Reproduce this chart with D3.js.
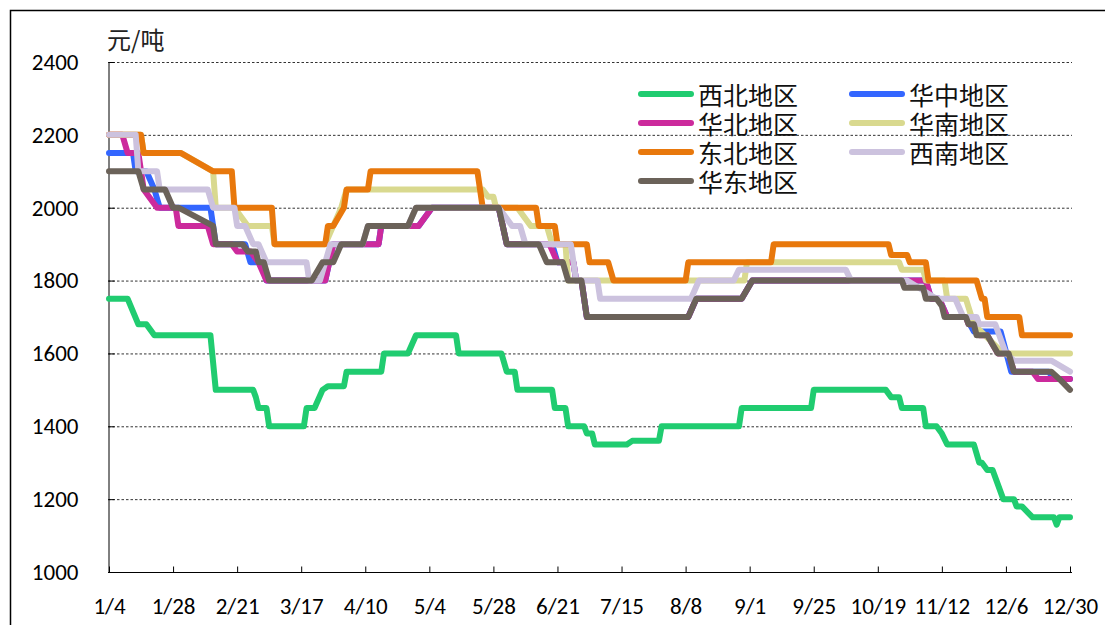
<!DOCTYPE html>
<html><head><meta charset="utf-8">
<script src="https://cdn.jsdelivr.net/npm/d3@7"></script>
<style>body{margin:0;background:#fff} svg{display:block}</style>
</head><body><svg id="c" width="1105" height="625"></svg>
<script>
const xTickLabels = ["1/4","1/28","2/21","3/17","4/10","5/4","5/28","6/21","7/15","8/8","9/1","9/25","10/19","11/12","12/6","12/30"];
const yTicks = [1000,1200,1400,1600,1800,2000,2200,2400];
const unitLabel = "元/吨";
const seriesNames = ["西北地区","华中地区","华北地区","华南地区","东北地区","西南地区","华东地区"];
const seriesColors = ["#20CC70","#3366FF","#CC2A9C","#D9D98F","#E8780C","#CCC2DE","#6B6259"];

const xibei = [["1/4",1750],["1/11",1750],["1/15",1680],["1/18",1680],["1/21",1650],["2/11",1650],["2/13",1500],["2/27",1500],["2/28",1480],["3/1",1450],["3/4",1450],["3/5",1400],["3/18",1400],["3/19",1450],["3/22",1450],["3/25",1500],["3/27",1510],["4/2",1510],["4/3",1550],["4/16",1550],["4/17",1600],["4/26",1600],["4/29",1650],["5/14",1650],["5/15",1600],["5/31",1600],["6/2",1550],["6/5",1550],["6/6",1500],["6/19",1500],["6/20",1450],["6/24",1450],["6/25",1400],["7/1",1400],["7/2",1380],["7/4",1380],["7/5",1350],["7/17",1350],["7/19",1360],["7/29",1360],["7/30",1400],["8/28",1400],["8/29",1450],["9/24",1450],["9/25",1500],["10/22",1500],["10/24",1480],["10/27",1480],["10/28",1450],["11/5",1450],["11/6",1400],["11/10",1400],["11/12",1380],["11/14",1350],["11/24",1350],["11/26",1300],["11/27",1300],["11/29",1280],["12/1",1280],["12/5",1200],["12/9",1200],["12/10",1180],["12/12",1180],["12/16",1150],["12/24",1150],["12/25",1130],["12/26",1150],["12/30",1150]];

const huazhong = [["1/4",2150],["1/13",2150],["1/14",2100],["1/18",2100],["1/21",2050],["1/23",2000],["2/11",2000],["2/13",1900],["2/24",1900],["2/26",1850],["3/2",1850],["3/4",1800],["3/26",1800],["3/29",1900],["4/15",1900],["4/16",1950],["4/30",1950],["5/5",2000],["5/30",2000],["6/2",1900],["6/19",1900],["6/21",1850],["6/27",1850],["6/28",1800],["6/30",1800],["7/2",1700],["8/9",1700],["8/12",1750],["8/29",1750],["9/2",1800],["11/6",1800],["11/8",1750],["11/11",1750],["11/14",1700],["11/21",1700],["11/24",1660],["12/4",1660],["12/8",1550],["12/22",1550],["12/24",1530],["12/30",1530]];

const huabei = [["1/4",2200],["1/9",2200],["1/11",2150],["1/15",2150],["1/17",2050],["1/22",2000],["1/29",2000],["1/30",1950],["2/10",1950],["2/12",1900],["2/19",1900],["2/21",1880],["2/26",1880],["3/1",1850],["3/4",1800],["3/26",1800],["3/29",1900],["4/15",1900],["4/16",1950],["4/30",1950],["5/5",2000],["5/30",2000],["6/2",1900],["6/18",1900],["6/21",1850],["6/27",1850],["6/28",1800],["6/30",1800],["7/2",1700],["8/9",1700],["8/12",1750],["8/29",1750],["9/2",1800],["11/6",1800],["11/8",1750],["11/11",1750],["11/14",1700],["11/21",1700],["11/22",1680],["11/24",1680],["11/26",1650],["11/29",1650],["12/3",1600],["12/7",1600],["12/9",1550],["12/16",1550],["12/18",1530],["12/30",1530]];

const huanan = [["1/4",2200],["1/16",2200],["1/17",2150],["1/31",2150],["2/12",2100],["2/13",2000],["2/20",2000],["2/25",1950],["3/6",1950],["3/7",1900],["3/26",1900],["4/1",2000],["4/3",2050],["5/24",2050],["5/26",2030],["5/28",2030],["5/29",2000],["6/6",2000],["6/11",1950],["6/17",1950],["6/19",1900],["6/24",1900],["6/25",1800],["8/30",1800],["8/31",1850],["10/27",1850],["10/28",1830],["11/5",1830],["11/6",1800],["11/13",1800],["11/14",1750],["11/21",1750],["11/24",1680],["12/5",1600],["12/30",1600]];

const dongbei = [["1/4",2200],["1/16",2200],["1/17",2150],["1/31",2150],["2/12",2100],["2/19",2100],["2/20",2000],["3/6",2000],["3/7",1900],["3/26",1900],["3/27",1950],["3/29",1950],["4/2",2000],["4/3",2050],["4/11",2050],["4/12",2100],["5/22",2100],["5/24",2000],["6/13",2000],["6/14",1950],["6/20",1950],["6/21",1900],["7/2",1900],["7/3",1850],["7/10",1850],["7/12",1800],["8/8",1800],["8/9",1850],["9/9",1850],["9/10",1900],["10/23",1900],["10/24",1870],["10/30",1870],["10/31",1850],["11/6",1850],["11/7",1800],["11/25",1800],["11/27",1750],["11/28",1750],["11/29",1700],["12/11",1700],["12/12",1650],["12/30",1650]];

const xinan = [["1/4",2200],["1/14",2200],["1/15",2100],["1/22",2100],["1/23",2050],["2/10",2050],["2/12",2000],["2/20",2000],["2/21",1950],["2/24",1950],["2/27",1900],["3/1",1900],["3/4",1850],["3/19",1850],["3/20",1800],["3/24",1800],["3/28",1900],["4/9",1900],["4/11",1950],["4/26",1950],["4/29",2000],["5/30",2000],["6/4",1950],["6/7",1950],["6/9",1900],["6/26",1900],["6/28",1800],["7/6",1800],["7/7",1750],["8/10",1750],["8/13",1800],["8/26",1800],["8/28",1830],["10/7",1830],["10/9",1800],["10/30",1800],["11/10",1750],["11/17",1750],["11/20",1700],["11/25",1700],["11/26",1680],["12/2",1680],["12/6",1600],["12/9",1580],["12/23",1580],["12/30",1550]];

const huadong = [["1/4",2100],["1/15",2100],["1/17",2050],["1/25",2050],["1/28",2000],["1/30",2000],["2/12",1950],["2/13",1900],["2/23",1900],["2/25",1880],["2/28",1880],["3/1",1850],["3/3",1850],["3/5",1800],["3/21",1800],["3/25",1850],["3/29",1850],["4/1",1900],["4/9",1900],["4/11",1950],["4/26",1950],["4/29",2000],["5/30",2000],["6/2",1900],["6/14",1900],["6/17",1850],["6/23",1850],["6/25",1800],["6/30",1800],["7/2",1700],["8/9",1700],["8/12",1750],["8/29",1750],["9/2",1800],["10/28",1800],["10/29",1780],["11/5",1780],["11/6",1750],["11/10",1750],["11/12",1730],["11/13",1700],["11/21",1700],["11/22",1680],["11/24",1680],["11/25",1650],["11/29",1650],["12/3",1600],["12/7",1600],["12/9",1550],["12/23",1550],["12/26",1530],["12/30",1500]];

const seriesData = [xibei, huazhong, huabei, huanan, dongbei, xinan, huadong];

function md(s){ const p = s.split("/").map(Number); return new Date(2021, p[0]-1, p[1]); }

const svg = d3.select("#c");
const numFont = "Carlito, 'Liberation Sans', Arial, sans-serif";
const cjkFont = "'Noto Sans CJK SC', sans-serif";

// outer frame
svg.append("rect").attr("x",10.5).attr("y",10.5).attr("width",1300).attr("height",800)
  .attr("fill","none").attr("stroke","#000").attr("stroke-width",1.5);

const x = d3.scaleTime().domain([md(xTickLabels[0]), md(xTickLabels[xTickLabels.length-1])]).range([109,1070]);
const y = d3.scaleLinear().domain([1000,2400]).range([572,62]);

// grid
svg.append("g").selectAll("line").data(yTicks.filter(v=>v>1000)).join("line")
  .attr("x1",108).attr("x2",1072).attr("y1",d=>y(d)+0.5).attr("y2",d=>y(d)+0.5)
  .attr("stroke","#333").attr("stroke-width",1).attr("stroke-dasharray","2.5,2");

// axes
const xAxis = d3.axisBottom(x).tickValues(xTickLabels.map(md))
  .tickFormat((d,i)=>xTickLabels[i]).tickSizeInner(-6).tickSizeOuter(0).tickPadding(25);
const gx = svg.append("g").attr("transform","translate(0,572.5)").call(xAxis);
gx.select(".domain").attr("d","M108,0H1072");
gx.selectAll("text").attr("font-family",numFont).attr("font-size",23).attr("fill","#000");
gx.selectAll("line").attr("stroke","#000");

const yAxis = d3.axisLeft(y).tickValues(yTicks).tickFormat(d3.format("d"))
  .tickSizeInner(-6).tickSizeOuter(0).tickPadding(30);
const gy = svg.append("g").attr("transform","translate(108.5,0)").call(yAxis);
gy.selectAll("text").attr("font-family",numFont).attr("font-size",23).attr("fill","#000");
gy.select(".domain").attr("stroke","#000");

svg.append("text").attr("x",107).attr("y",49).attr("font-family",cjkFont).attr("font-size",24)
  .attr("fill","#222").text(unitLabel);

// lines
const line = d3.line().x(d=>x(md(d[0]))).y(d=>y(d[1]));
svg.append("g").selectAll("path").data(seriesData).join("path")
  .attr("d",line).attr("fill","none")
  .attr("stroke",(d,i)=>seriesColors[i]).attr("stroke-width",6)
  .attr("stroke-linejoin","round").attr("stroke-linecap","round");

// legend
const lg = svg.append("g");
seriesNames.forEach((name,i)=>{
  const col = i%2, row = Math.floor(i/2);
  const lx = col===0 ? 641 : 852;
  const ly = 94 + row*29;
  lg.append("line").attr("x1",lx).attr("x2",lx+50).attr("y1",ly).attr("y2",ly)
    .attr("stroke",seriesColors[i]).attr("stroke-width",6).attr("stroke-linecap","round");
  lg.append("text").attr("x",lx+57).attr("y",ly).attr("dominant-baseline","central")
    .attr("font-family",cjkFont).attr("font-size",25).attr("fill","#111").text(name);
});
</script></body></html>
